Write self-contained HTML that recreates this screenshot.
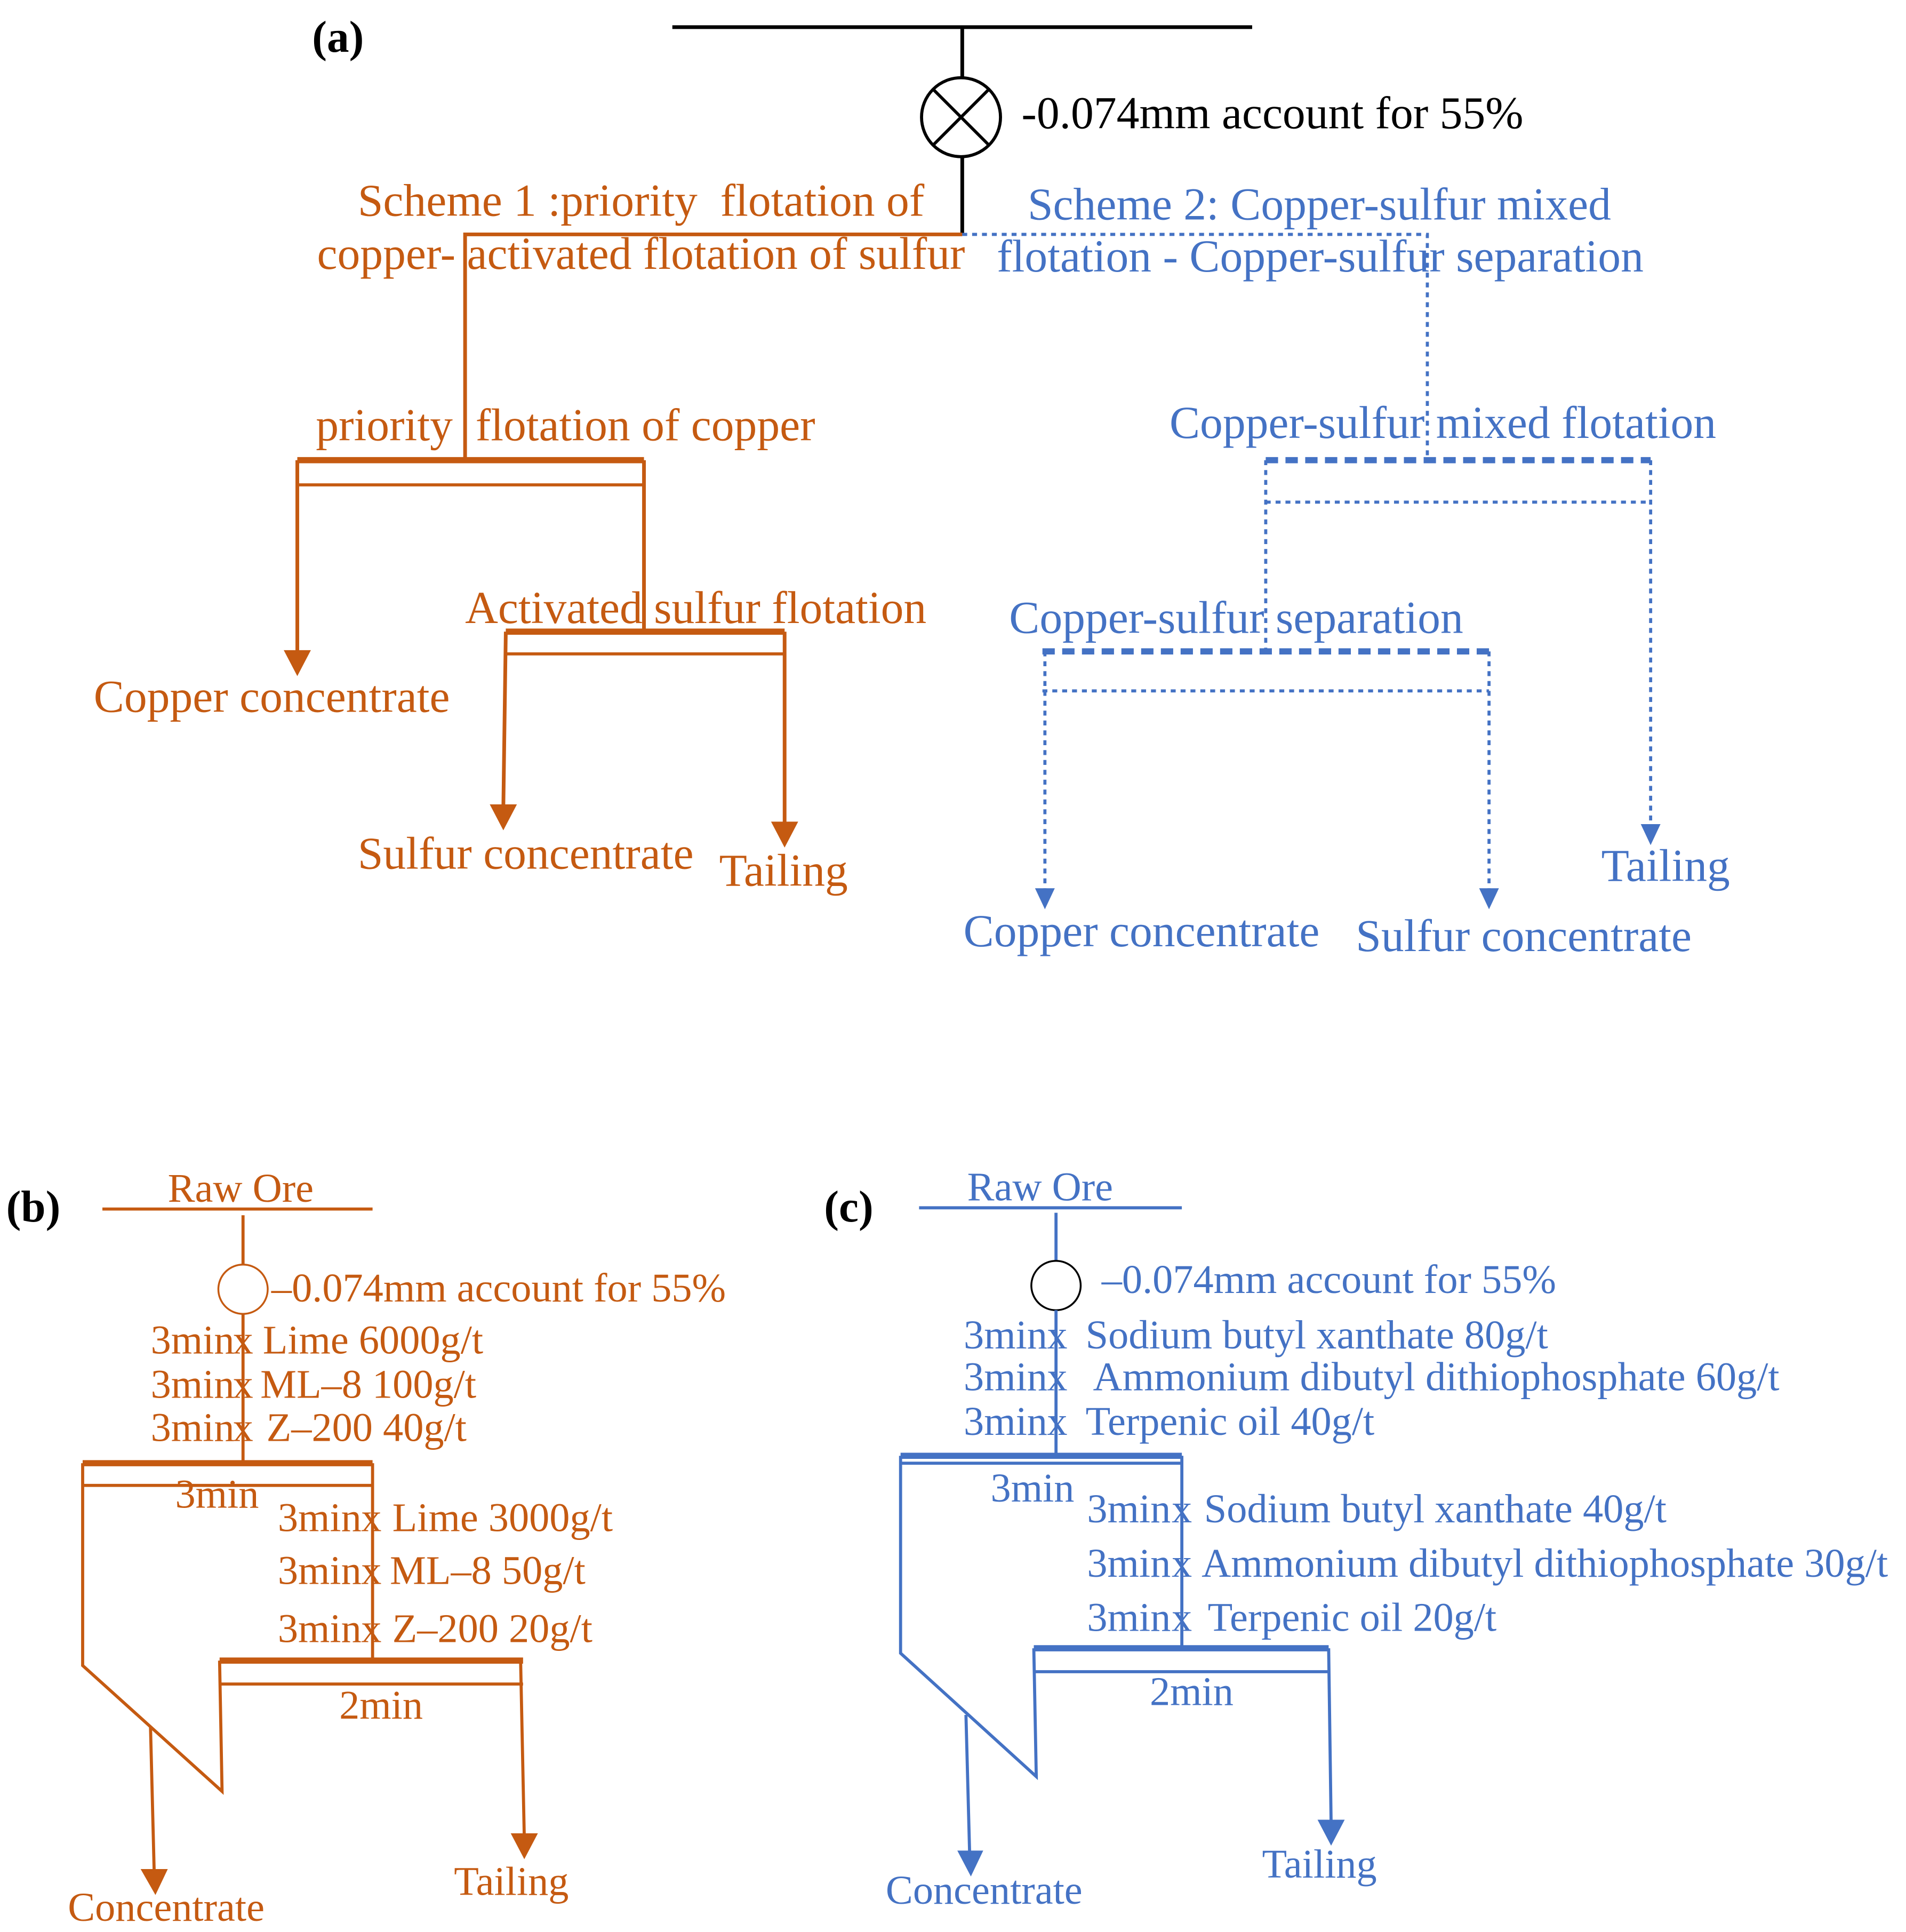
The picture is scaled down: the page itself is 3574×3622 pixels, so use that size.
<!DOCTYPE html>
<html><head><meta charset="utf-8"><style>
html,body{margin:0;padding:0;background:#fff}
svg{display:block}
text{font-family:"Liberation Serif",serif}
.o{fill:#C55A11}.b{fill:#4472C4}
</style></head><body>
<svg width="3574" height="3622" viewBox="0 0 1545 1566" preserveAspectRatio="none" xmlns="http://www.w3.org/2000/svg">
<!-- (a) -->
<text x="253" y="42" font-size="36" font-weight="bold">(a)</text>
<g stroke="#000" stroke-width="3" fill="none">
<line x1="545" y1="22" x2="1015" y2="22"/>
<line x1="780" y1="22" x2="780" y2="63"/>
<circle cx="779" cy="95" r="32" stroke-width="2.5"/>
<line x1="757" y1="73" x2="801" y2="117" stroke-width="2.5"/>
<line x1="801" y1="73" x2="757" y2="117" stroke-width="2.5"/>
<line x1="780" y1="127" x2="780" y2="190"/>
</g>
<text x="828" y="104" font-size="37">-0.074mm account for 55%</text>
<g font-size="37">
<text class="o" x="290" y="175">Scheme 1 :priority&#160; flotation of</text>
<text class="o" x="257" y="218">copper- activated flotation of sulfur</text>
<text class="b" x="833" y="178">Scheme 2: Copper-sulfur mixed</text>
<text class="b" x="808" y="220">flotation - Copper-sulfur separation</text>
<text class="o" x="256" y="357">priority&#160; flotation of copper</text>
<text class="o" x="76" y="577">Copper concentrate</text>
<text class="o" x="377" y="505">Activated sulfur flotation</text>
<text class="o" x="290" y="704">Sulfur concentrate</text>
<text class="o" x="583" y="718">Tailing</text>
<text class="b" x="948" y="355">Copper-sulfur mixed flotation</text>
<text class="b" x="818" y="513">Copper-sulfur separation</text>
<text class="b" x="1298" y="714">Tailing</text>
<text class="b" x="781" y="767">Copper concentrate</text>
<text class="b" x="1099" y="771">Sulfur concentrate</text>
</g>
<g stroke="#C55A11" fill="none" stroke-width="3">
<polyline points="780,190 377,190 377,373"/>
<line x1="241" y1="373" x2="522" y2="373" stroke-width="5"/>
<line x1="241" y1="393" x2="522" y2="393" stroke-width="2.5"/>
<line x1="241" y1="373" x2="241" y2="530"/>
<line x1="522" y1="373" x2="522" y2="512"/>
<line x1="410" y1="512" x2="636" y2="512" stroke-width="5"/>
<line x1="410" y1="530" x2="636" y2="530" stroke-width="2.5"/>
<line x1="410" y1="512" x2="408" y2="655"/>
<line x1="636" y1="512" x2="636" y2="668"/>
</g>
<g fill="#C55A11">
<path d="M230,527 L252,527 L241,548z"/>
<path d="M397,652 L419,652 L408,673z"/>
<path d="M625,666 L647,666 L636,687z"/>
</g>
<g stroke="#4472C4" fill="none" stroke-width="2.5" stroke-dasharray="4,4">
<polyline points="780,190 1157,190 1157,373"/>
<line x1="1026" y1="373" x2="1338" y2="373" stroke-width="5" stroke-dasharray="10,6"/>
<line x1="1026" y1="407" x2="1338" y2="407"/>
<line x1="1026" y1="373" x2="1026" y2="528"/>
<line x1="1338" y1="373" x2="1338" y2="670"/>
<line x1="845" y1="528" x2="1207" y2="528" stroke-width="5" stroke-dasharray="10,6"/>
<line x1="845" y1="560" x2="1207" y2="560"/>
<line x1="847" y1="528" x2="847" y2="722"/>
<line x1="1207" y1="528" x2="1207" y2="722"/>
</g>
<g fill="#4472C4">
<path d="M1330,668 L1346,668 L1338,685z"/>
<path d="M839,720 L855,720 L847,737z"/>
<path d="M1199,720 L1215,720 L1207,737z"/>
</g>
<!-- (b) -->
<text x="5" y="990" font-size="36" font-weight="bold">(b)</text>
<g font-size="33" class="o">
<text x="136" y="974">Raw Ore</text>
<text x="220" y="1055">–0.074mm account for 55%</text>
<g text-anchor="end">
<text x="190" y="1097">3min</text>
<text x="190" y="1133">3min</text>
<text x="190" y="1168">3min</text>
<text x="293" y="1241">3min</text>
<text x="293" y="1284">3min</text>
<text x="293" y="1331">3min</text>
</g>
<text x="213" y="1097">Lime 6000g/t</text>
<text x="211" y="1133">ML–8 100g/t</text>
<text x="216" y="1168">Z–200 40g/t</text>
<text x="142" y="1222">3min</text>
<text x="318" y="1241">Lime 3000g/t</text>
<text x="316" y="1284">ML–8 50g/t</text>
<text x="318" y="1331">Z–200 20g/t</text>
<text x="275" y="1393">2min</text>
<text x="55" y="1557">Concentrate</text>
<text x="368" y="1536">Tailing</text>
<g text-anchor="middle">
<text x="197" y="1097">x</text><text x="197" y="1133">x</text><text x="197" y="1168">x</text>
<text x="301" y="1241">x</text><text x="301" y="1284">x</text><text x="301" y="1331">x</text>
</g>
</g>
<g stroke="#C55A11" fill="none" stroke-width="2.5">
<line x1="83" y1="980" x2="302" y2="980"/>
<line x1="197" y1="985" x2="197" y2="1025"/>
<circle cx="197" cy="1045" r="20" stroke-width="1.5"/>
<line x1="197" y1="1065" x2="197" y2="1186"/>
<line x1="67" y1="1186" x2="302" y2="1186" stroke-width="5"/>
<line x1="67" y1="1204" x2="302" y2="1204"/>
<polyline points="67,1186 67,1350 180,1452 178,1346"/>
<line x1="302" y1="1186" x2="302" y2="1346"/>
<line x1="178" y1="1346" x2="424" y2="1346" stroke-width="5"/>
<line x1="178" y1="1365" x2="424" y2="1365"/>
<line x1="122" y1="1400" x2="125" y2="1518"/>
<line x1="422" y1="1346" x2="425" y2="1490"/>
</g>
<g fill="#C55A11">
<path d="M114,1515 L136,1515 L126,1536z"/>
<path d="M414,1486 L436,1486 L425,1507z"/>
</g>
<!-- (c) -->
<text x="668" y="990" font-size="36" font-weight="bold">(c)</text>
<g font-size="33" class="b">
<text x="784" y="973">Raw Ore</text>
<text x="893" y="1048">–0.074mm account for 55%</text>
<g text-anchor="end">
<text x="849" y="1093">3min</text>
<text x="849" y="1127">3min</text>
<text x="849" y="1163">3min</text>
<text x="949" y="1234">3min</text>
<text x="949" y="1278">3min</text>
<text x="949" y="1322">3min</text>
</g>
<text x="880" y="1093">Sodium butyl xanthate 80g/t</text>
<text x="886" y="1127">Ammonium dibutyl dithiophosphate 60g/t</text>
<text x="880" y="1163">Terpenic oil 40g/t</text>
<text x="803" y="1217">3min</text>
<text x="976" y="1234">Sodium butyl xanthate 40g/t</text>
<text x="974" y="1278">Ammonium dibutyl dithiophosphate 30g/t</text>
<text x="979" y="1322">Terpenic oil 20g/t</text>
<text x="932" y="1382">2min</text>
<text x="718" y="1543">Concentrate</text>
<text x="1023" y="1522">Tailing</text>
<g text-anchor="middle">
<text x="857" y="1093">x</text><text x="857" y="1127">x</text><text x="857" y="1163">x</text>
<text x="958" y="1234">x</text><text x="958" y="1278">x</text><text x="958" y="1322">x</text>
</g>
</g>
<g stroke="#4472C4" fill="none" stroke-width="2.5">
<line x1="745" y1="979" x2="958" y2="979"/>
<line x1="856" y1="983" x2="856" y2="1022"/>
<circle cx="856" cy="1042" r="20" stroke="#000" stroke-width="1.5"/>
<line x1="856" y1="1062" x2="856" y2="1180"/>
<line x1="730" y1="1180" x2="958" y2="1180" stroke-width="5"/>
<line x1="730" y1="1186" x2="958" y2="1186"/>
<polyline points="730,1180 730,1340 840,1440 838,1336"/>
<line x1="958" y1="1180" x2="958" y2="1336"/>
<line x1="838" y1="1336" x2="1077" y2="1336" stroke-width="5"/>
<line x1="838" y1="1355" x2="1077" y2="1355"/>
<line x1="783" y1="1390" x2="786" y2="1503"/>
<line x1="1077" y1="1336" x2="1079" y2="1478"/>
</g>
<g fill="#4472C4">
<path d="M776,1500 L797,1500 L787,1521z"/>
<path d="M1068,1475 L1090,1475 L1079,1496z"/>
</g>
</svg>
</body></html>
